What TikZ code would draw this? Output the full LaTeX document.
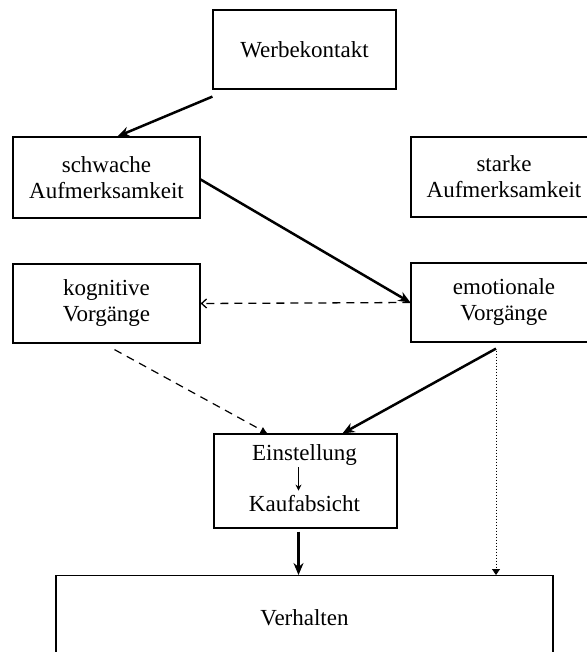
\documentclass[tikz,border=0pt]{standalone}
\usepackage{fontspec}
\setmainfont{Liberation Serif}
\usetikzlibrary{arrows.meta,positioning}

\begin{document}
\begin{tikzpicture}[x=1pt, y=-1pt]
%coordinates in pixels of the scan, y downwards
\tikzstyle{box}=[draw, line width=1.2pt, align=center, inner sep=0pt, font=\fontsize{23}{26}\selectfont]
\tikzstyle{txt}=[inner sep=0pt, font=\fontsize{23}{26}\selectfont]
\tikzstyle{strong}=[-{Stealth[length=12pt, width=10pt]}, line width=2.5pt]
\useasboundingbox (0,0) rectangle (586,652);
\node[box, minimum width=183pt, minimum height=79pt](werbung) at (304.5,49.5) {Werbekontakt};
\node[box, minimum width=187pt, minimum height=81pt](schwach) at (106.5,177.5) {schwache\\Aufmerksamkeit};
\node[box, minimum width=186pt, minimum height=80pt](stark) at (504,177) {starke\\Aufmerksamkeit};
\node[box, minimum width=187pt, minimum height=79pt](kognitiv) at (106.5,303.5) {kognitive\\Vorgänge};
\node[box, minimum width=186pt, minimum height=79pt](emotional) at (504,302.5) {emotionale\\Vorgänge};
\node[box, minimum width=183pt, minimum height=94pt](haltung) at (305.5,481) {};
\node[txt](einst) at (304.5,454.6) {Einstellung};
\node[txt](kauf) at (304.5,504) {Kaufabsicht};
\node[box, minimum width=497pt, minimum height=100pt, text depth=16pt, anchor=north](verhalten) at (304.5,575) {Verhalten};
\draw[strong] ([yshift=-7pt]werbung.south west) -- ([xshift=11pt]schwach.north);
\draw[strong] ([yshift=-2pt]schwach.east) -- (emotional.west);
\draw[-{Straight Barb[length=5pt, width=9pt]}, line width=1.3pt, dash pattern=on 8pt off 6pt] (emotional.west) -- (kognitiv.east);
\draw[-{Latex[length=7pt, width=7pt]}, line width=1.2pt, dash pattern=on 8pt off 6pt] ([xshift=8pt, yshift=-6pt]kognitiv.south) -- ([xshift=-38pt]haltung.north);
\draw[strong] ([xshift=-8pt, yshift=-6pt]emotional.south) -- ([xshift=37pt]haltung.north);
\draw[-{Triangle[length=6pt, width=8pt]}, line width=0.8pt, dash pattern=on 1pt off 2pt] ([xshift=-8pt, yshift=-8pt]emotional.south) -- ([xshift=-8pt]emotional.south |- verhalten.north);
\draw[-{Stealth[length=6pt, width=6pt]}, line width=0.9pt] ([xshift=-6pt, yshift=-2pt]einst.south) -- ([xshift=-6pt, yshift=5pt]kauf.north);
\draw[strong] ([xshift=-7pt, yshift=-3pt]haltung.south) -- ([xshift=-7pt]haltung.south |- verhalten.north);
\end{tikzpicture}
\end{document}
